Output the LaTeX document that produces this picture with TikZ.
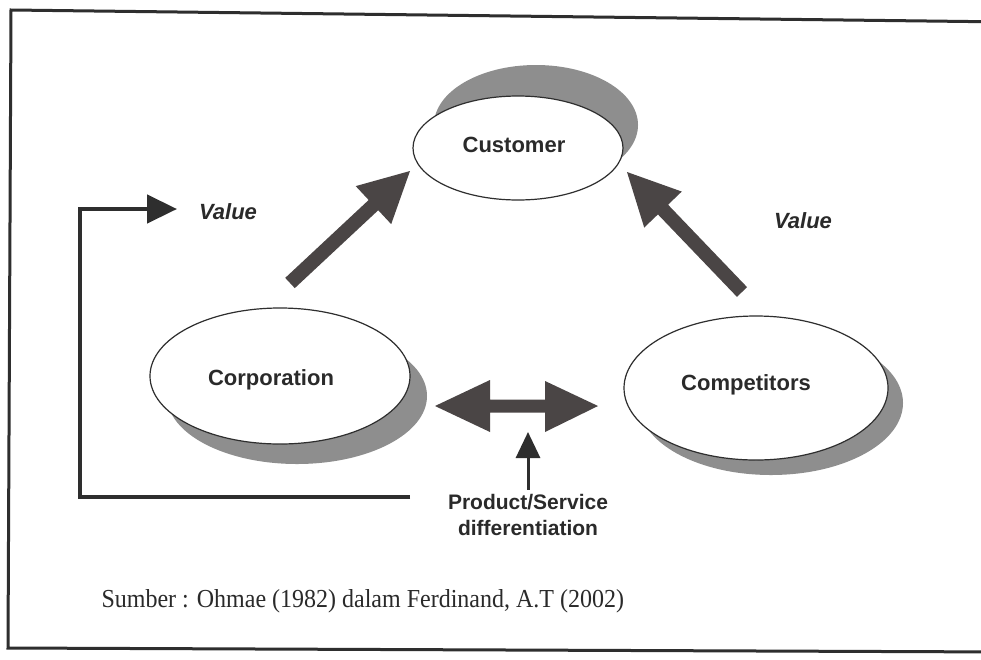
\documentclass[tikz,border=0pt]{standalone}
\usepackage{fontspec}
\setmainfont{Liberation Serif}
\setsansfont{Liberation Sans}
\usetikzlibrary{calc,shapes.geometric,arrows.meta}
\definecolor{arrowfill}{HTML}{4A4545}
\definecolor{shadowgray}{HTML}{8E8E8E}
\definecolor{inkline}{HTML}{2E2E2E}
\definecolor{inktext}{HTML}{2A2A2A}
\newcommand\fatarrow[5]{%
  \coordinate (#2-b) at ($(#2)!#5!(#1)$);
  \fill[arrowfill] ($(#1)!#3!90:(#2)$) -- ($(#2-b)!#3!90:(#2)$) -- ($(#2-b)!#4!90:(#2)$) -- (#2)
    -- ($(#2-b)!#4!-90:(#2)$) -- ($(#2-b)!#3!-90:(#2)$) -- ($(#1)!#3!-90:(#2)$) -- cycle;}
\begin{document}
\begin{tikzpicture}[x=1pt,y=-1pt,
  disk/.style={ellipse, draw=inkline, line width=1.2pt, fill=white, inner sep=0pt},
  diskshadow/.style={ellipse, fill=shadowgray, inner sep=0pt},
  lbl/.style={font=\sffamily\bfseries\fontsize{22}{26}\selectfont, text=inktext},
  vlbl/.style={font=\sffamily\bfseries\itshape\fontsize{22}{26}\selectfont, text=inktext},
  frameline/.style={draw=inkline, line width=3pt},
  feedline/.style={draw=inkline, line width=4.5pt, line join=miter}]
\useasboundingbox (0,0) rectangle (981,659);
\fill[white] (0,0) rectangle (981,659);
% frame
\coordinate (fTR) at (1010,22);
\coordinate (fTL) at (11,10);
\coordinate (fBL) at (8,648);
\coordinate (fBR) at (1010,652);
\draw[frameline] (fTR) -- (fTL) -- (fBL) -- (fBR);
% shadows
\node[diskshadow, minimum width=204pt, minimum height=120pt] (custsh) at (536,125) {};
\node[diskshadow, minimum width=260pt, minimum height=136pt] (corpsh) at (297,396) {};
\node[diskshadow, minimum width=264pt, minimum height=144pt] (compsh) at (771,403) {};
% disks
\node[disk, minimum width=210pt, minimum height=104pt] (cust) at (518,148) {};
\node[disk, minimum width=260pt, minimum height=136pt] (corp) at (280,376) {};
\node[disk, minimum width=264pt, minimum height=144pt] (comp) at (756,388) {};
\node[lbl] (custl) at (514,145) {Customer};
\node[lbl] (corpl) at (271,380) {Corporation};
\node[lbl] (compl) at (746,385) {Competitors};
% fat arrows to customer
\coordinate (la-tail) at (290,283);
\coordinate (la-tip) at (410,171);
\fatarrow{la-tail}{la-tip}{7pt}{26pt}{50pt}
\coordinate (ra-tail) at (742,292);
\coordinate (ra-tip) at (627,172);
\fatarrow{ra-tail}{ra-tip}{7pt}{26pt}{52pt}
\node[vlbl] (vall) at (228,212) {Value};
\node[vlbl] (valr) at (803,221) {Value};
% double arrow between corporation and competitors
\coordinate (dl) at (435,406);
\coordinate (dr) at (598,406);
\fill[arrowfill] (dl) -- (490,380) -- (490,399.5) -- (545,399.5) -- (545,381) -- (dr)
  -- (545,432) -- (545,412.5) -- (490,412.5) -- (490,432) -- cycle;
% product differentiation arrow
\node[lbl, align=center, font=\sffamily\bfseries\fontsize{21}{26}\selectfont] (pdl) at (528,515) {Product/Service\\differentiation};
\coordinate (pd-tip) at (528,433);
\draw[draw=inkline, line width=3pt, -{Triangle[length=26pt,width=24pt]}, shorten >=-1pt] (pdl.north) ++(0,-1) -- (pd-tip);
% feedback line from corporation to value
\coordinate (fb1) at (410,497);
\coordinate (fb2) at (80,497);
\coordinate (fb3) at (80,209);
\coordinate (fb4) at (177,209);
\draw[feedline, -{Triangle[length=30pt,width=28pt]}] (fb1) -- (fb2) -- (fb3) -- (fb4);
% source
\node[anchor=west, font=\fontsize{24}{28}\selectfont, text=inktext, yscale=1.08] (src) at (98,601) {Sumber : Ohmae (1982) dalam Ferdinand, A.T (2002)};
\end{tikzpicture}
\end{document}
